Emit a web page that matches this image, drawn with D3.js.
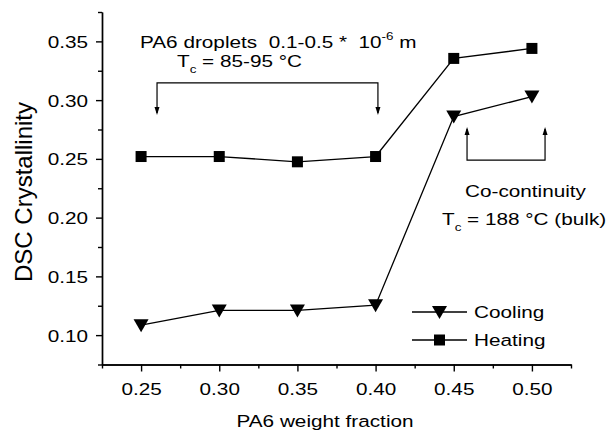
<!DOCTYPE html>
<html>
<head>
<meta charset="utf-8">
<script src="https://cdn.jsdelivr.net/npm/d3@7"></script>
<style>
  html, body { margin: 0; padding: 0; background: #fff; }
  svg text { font-family: "Liberation Sans", Arial, sans-serif; fill: #000; white-space: pre; }
</style>
</head>
<body>
<div id="chart"></div>
<script>
// values
const fraction = [0.25, 0.30, 0.35, 0.40, 0.45, 0.50];
const cooling = [0.1085, 0.121, 0.121, 0.1255, 0.286, 0.303];
const heating = [0.252, 0.252, 0.2475, 0.252, 0.3355, 0.344];
const xTicks = [0.25, 0.30, 0.35, 0.40, 0.45, 0.50];
const yTicks = [0.10, 0.15, 0.20, 0.25, 0.30, 0.35];
const xMinor = [0.225, 0.275, 0.325, 0.375, 0.425, 0.475, 0.525];
const yMinor = [0.075, 0.125, 0.175, 0.225, 0.275, 0.325, 0.375];
const seriesNames = ['Cooling', 'Heating'];

const width = 610, height = 433;
const stretch = 1.22; // glyphs in the picture are wider than plain Arial
const fontSize = 17;

const svg = d3.select('#chart')
  .append('svg')
  .attr('width', width)
  .attr('height', height);

const x = d3.scaleLinear().domain([0.225, 0.525]).range([102, 571]);
const y = d3.scaleLinear().domain([0.075, 0.375]).range([364.5, 12]);

// axes: minor ticks first, then labelled major ticks
svg.append('g')
  .attr('transform', `translate(0,${y(0.075)})`)
  .call(d3.axisBottom(x).tickValues(xMinor).tickSize(4).tickSizeOuter(0).tickFormat(''));
svg.append('g')
  .attr('transform', `translate(${x(0.225)},0)`)
  .call(d3.axisLeft(y).tickValues(yMinor).tickSize(4).tickSizeOuter(0).tickFormat(''));

const xAxis = svg.append('g')
  .attr('transform', `translate(0,${y(0.075)})`)
  .call(d3.axisBottom(x).tickValues(xTicks).tickSize(7).tickSizeOuter(0).tickFormat(d3.format('.2f')));
const yAxis = svg.append('g')
  .attr('transform', `translate(${x(0.225)},0)`)
  .call(d3.axisLeft(y).tickValues(yTicks).tickSize(6).tickSizeOuter(0).tickFormat(d3.format('.2f')));

svg.selectAll('.domain, .tick line')
  .attr('stroke', '#000')
  .attr('stroke-width', 1.4);

xAxis.selectAll('.tick text')
  .attr('font-size', fontSize)
  .attr('y', null).attr('dy', null)
  .attr('transform', `translate(0,30) scale(${stretch},1)`);
yAxis.selectAll('.tick text')
  .attr('font-size', fontSize)
  .attr('x', null)
  .attr('dy', '0.36em')
  .attr('transform', `translate(-14,0) scale(${stretch},1)`);

// axis titles
svg.append('text')
  .attr('font-size', 17)
  .attr('text-anchor', 'middle')
  .attr('transform', `translate(325,427) scale(${stretch},1)`)
  .text('PA6 weight fraction');
svg.append('text')
  .attr('font-size', 24)
  .attr('text-anchor', 'middle')
  .attr('transform', `translate(32,192) rotate(-90)`)
  .text('DSC Crystallinity');

// lines and symbols
const line = d3.line().x(d => x(d[0])).y(d => y(d[1]));
const tri = 'M-7.5,-6L7.5,-6L0,7Z';

[cooling, heating].forEach(s => {
  svg.append('path')
    .datum(d3.zip(fraction, s))
    .attr('fill', 'none').attr('stroke', '#000').attr('stroke-width', 1.3)
    .attr('d', line);
});

svg.append('g')
  .selectAll('path')
  .data(d3.zip(fraction, cooling))
  .join('path')
  .attr('d', tri)
  .attr('transform', d => `translate(${x(d[0])},${y(d[1])})`);
svg.append('g')
  .selectAll('rect')
  .data(d3.zip(fraction, heating))
  .join('rect')
  .attr('x', d => x(d[0]) - 5.5)
  .attr('y', d => y(d[1]) - 5.5)
  .attr('width', 11)
  .attr('height', 11);

// legend
const legend = svg.append('g');
seriesNames.forEach((name, i) => {
  const ly = 312 + i * 28;
  legend.append('line')
    .attr('x1', 412).attr('x2', 467).attr('y1', ly).attr('y2', ly)
    .attr('stroke', '#000').attr('stroke-width', 1.3);
  if (i === 0) {
    legend.append('path').attr('d', tri).attr('transform', `translate(439.5,${ly})`);
  } else {
    legend.append('rect').attr('x', 434).attr('y', ly - 5.5).attr('width', 11).attr('height', 11);
  }
  legend.append('text')
    .attr('font-size', fontSize)
    .attr('transform', `translate(474,${ly + 6}) scale(${stretch},1)`)
    .text(name);
});

// annotations; {s, dy} parts are sub/superscripts, the next part goes back to the baseline
function label(tx, ty, parts) {
  const t = svg.append('text')
    .attr('font-size', fontSize)
    .attr('transform', `translate(${tx},${ty}) scale(${stretch},1)`);
  let back = 0;
  parts.forEach(p => {
    if (typeof p === 'string') {
      t.append('tspan').attr('dy', back).text(p);
      back = 0;
    } else {
      t.append('tspan').attr('font-size', 11).attr('dy', p.dy).text(p.s);
      back = -p.dy;
    }
  });
  return t;
}

label(140, 48, ['PA6 droplets  0.1-0.5 *  10', {s: '-6', dy: -8}, ' m']);
label(177, 67, ['T', {s: 'c', dy: 6}, ' = 85-95 \u00b0C']);
label(465, 197, ['Co-continuity']);
label(442, 225, ['T', {s: 'c', dy: 6}, ' = 188 \u00b0C (bulk)']);

// brackets with arrows
const brackets = [
  {x0: 0.2602, x1: 0.4015, yb: 0.3146, tip: 0.2873},
  {x0: 0.4585, x1: 0.5084, yb: 0.2490, tip: 0.2771}
];
brackets.forEach(b => {
  const dir = y(b.tip) > y(b.yb) ? 1 : -1;
  svg.append('path')
    .attr('fill', 'none').attr('stroke', '#000').attr('stroke-width', 1.2)
    .attr('d', `M${x(b.x0)},${y(b.tip) - dir * 2}V${y(b.yb)}H${x(b.x1)}V${y(b.tip) - dir * 2}`);
  [b.x0, b.x1].forEach(v => {
    const px = x(v), py = y(b.tip);
    svg.append('path')
      .attr('d', `M${px},${py}L${px - 2.5},${py - dir * 8}L${px + 2.5},${py - dir * 8}Z`);
  });
});
</script>
</body>
</html>
